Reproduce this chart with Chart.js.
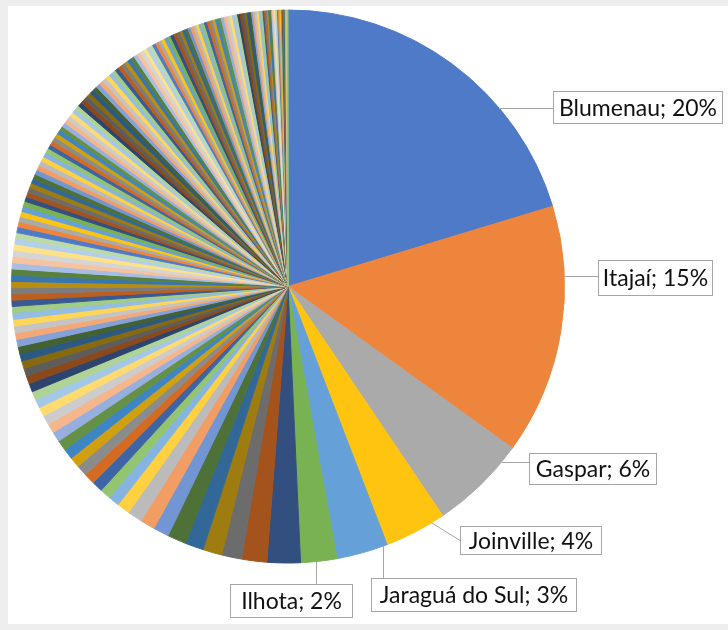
<!DOCTYPE html>
<html>
<head>
<meta charset="utf-8">
<script src="https://cdn.jsdelivr.net/npm/chart.js@4.4.1/dist/chart.umd.min.js"></script>
<style>
  html, body { margin: 0; padding: 0; background: #eeeeee; }
  #wrap { position: absolute; left: 8px; top: 6px; width: 720px; height: 618px; background: #fff; }
</style>
</head>
<body>
<div id="wrap"><canvas id="chart" width="720" height="618"></canvas></div>
<script>
// Named municipalities (only the labelled slices have names in the picture)
const cidades = ["Blumenau", "Itajaí", "Gaspar", "Joinville", "Jaraguá do Sul", "Ilhota"];

// Slice values, sorted descending
const valoresPrincipais = [731, 526, 202, 130, 108, 76];
const valoresMedios = [
  70, 53, 42, 40, 39, 39, 33, 31, 31, 27, 23, 23,
  23, 23, 23, 22, 22, 22, 21, 20, 20, 19, 18, 18,
  18, 17, 16, 16, 16, 15, 15, 14, 14, 14, 14, 13,
  13, 13, 13, 13, 13, 13, 13, 13, 13, 13, 12, 12,
  12, 11, 11, 11, 11, 11,
];
const valoresPequenos = [
  10, 10, 10, 10, 10, 10, 10, 10, 10, 10, 10, 10,
  9, 9, 9, 9, 9, 9, 9, 9, 9, 9, 9, 9, 9, 9, 9, 9, 9, 9, 9, 9, 9, 9,
  8, 8, 8, 8, 8, 8, 8, 8, 8, 8, 8,
  7, 7, 7, 7, 7, 7, 7, 7, 7, 7, 7, 7,
  6, 6, 6, 6, 6, 6, 6, 6, 6, 6, 6, 6, 6, 6, 6, 6, 6, 6, 6, 6,
  5, 5, 5, 5, 5, 5, 4, 4, 4, 4, 4, 4, 4,
  3, 3, 3, 3, 3, 3,
  2, 2, 2, 2, 2, 2, 2, 2, 2, 2,
  1, 1, 1, 1, 1, 1, 1, 1, 1, 1, 1, 1, 1, 1,
];

const valores = [...valoresPrincipais, ...valoresMedios, ...valoresPequenos];
const rotulos = valores.map((v, i) => cidades[i] || "");

// Office theme accents and the variations Excel cycles through for many points
const accents = ["#4472C4", "#ED7D31", "#A5A5A5", "#FFC000", "#5B9BD5", "#70AD47"];
const variations = [[1, 0], [0.6, 0], [0.8, 0.2], [0.8, 0], [0.6, 0.4], [0.5, 0], [0.7, 0.3], [0.7, 0], [0.5, 0.5]];

function hslToRgb(h, s, l) {
  const c = (1 - Math.abs(2 * l - 1)) * s;
  const x = c * (1 - Math.abs(((h / 60) % 2) - 1));
  const m = l - c / 2;
  const seg = Math.floor(h / 60) % 6;
  const [r, g, b] = [[c, x, 0], [x, c, 0], [0, c, x], [0, x, c], [x, 0, c], [c, 0, x]][seg];
  return [r + m, g + m, b + m];
}

function varyColor(hex, [lumMod, lumOff]) {
  const r = parseInt(hex.slice(1, 3), 16) / 255;
  const g = parseInt(hex.slice(3, 5), 16) / 255;
  const b = parseInt(hex.slice(5, 7), 16) / 255;
  const max = Math.max(r, g, b), min = Math.min(r, g, b);
  const l0 = (max + min) / 2;
  let h = 0, s = 0;
  if (max !== min) {
    const d = max - min;
    s = l0 > 0.5 ? d / (2 - max - min) : d / (max + min);
    if (max === r) h = (g - b) / d + (g < b ? 6 : 0);
    else if (max === g) h = (b - r) / d + 2;
    else h = (r - g) / d + 4;
    h *= 60;
  }
  const l = Math.min(1, l0 * lumMod + lumOff);
  // the screenshot is a touch washed out, so blend a little white in
  const rgb = hslToRgb(h, s, l).map((v) => Math.round((v + (1 - v) * 0.06) * 255));
  return `rgb(${rgb.join(",")})`;
}

const cores = valores.map((v, i) =>
  varyColor(accents[i % 6], variations[Math.floor(i / 6) % variations.length]),
);

// Where each callout sits: fraction along its slice for the leader, box rect
const callouts = [
  { at: 0.68, lead: "h", box: [545, 85, 170, 33] },
  { at: 0.28, lead: "h", box: [590, 254, 115, 36] },
  { at: 0.18, lead: "h", box: [521, 447, 128, 32] },
  { at: 0.21, lead: "d", box: [452, 520, 142, 29] },
  { at: 0.08, lead: "v", box: [363, 572, 206, 34] },
  { at: 0.58, lead: "v", box: [222, 578, 123, 34] },
];

const calloutPlugin = {
  id: "callouts",
  afterDraw(chart) {
    const ctx = chart.ctx;
    const meta = chart.getDatasetMeta(0);
    const data = chart.data.datasets[0].data;
    const total = data.reduce((a, b) => a + b, 0);
    ctx.save();
    ctx.font = "23px Lato";
    ctx.lineWidth = 1;
    callouts.forEach((c, i) => {
      const { x, y, outerRadius, startAngle, endAngle } = meta.data[i].getProps(
        ["x", "y", "outerRadius", "startAngle", "endAngle"], true);
      const a = startAngle + (endAngle - startAngle) * c.at;
      let ex = x + Math.cos(a) * outerRadius;
      let ey = y + Math.sin(a) * outerRadius;
      const [bx, by, bw, bh] = c.box;
      let tx, ty;
      if (c.lead === "h") { ey = Math.round(ey) + 0.5; tx = bx; ty = ey; }
      else if (c.lead === "v") { ex = Math.round(ex) + 0.5; tx = ex; ty = by; }
      else { tx = bx; ty = by + bh / 2; }
      ctx.strokeStyle = "#a6a6a6";
      ctx.beginPath();
      ctx.moveTo(ex, ey);
      ctx.lineTo(tx, ty);
      ctx.stroke();
      ctx.fillStyle = "#ffffff";
      ctx.fillRect(bx, by, bw, bh);
      ctx.strokeRect(bx + 0.5, by + 0.5, bw - 1, bh - 1);
      ctx.fillStyle = "#111111";
      ctx.textAlign = "center";
      ctx.textBaseline = "middle";
      const pct = Math.round((data[i] / total) * 100);
      ctx.fillText(`${chart.data.labels[i]}; ${pct}%`, bx + bw / 2, by + bh / 2 + 1);
    });
    ctx.restore();
  },
};

new Chart(document.getElementById("chart"), {
  type: "pie",
  data: {
    labels: rotulos,
    datasets: [{
      data: valores,
      backgroundColor: cores,
      borderColor: cores,
      borderWidth: 1,
      hoverOffset: 0,
    }],
  },
  options: {
    responsive: false,
    animation: false,
    layout: { padding: { left: 3, top: 3.5, right: 163, bottom: 60.5 } },
    plugins: {
      legend: { display: false },
      tooltip: { enabled: false },
    },
  },
  plugins: [calloutPlugin],
});
</script>
</body>
</html>
